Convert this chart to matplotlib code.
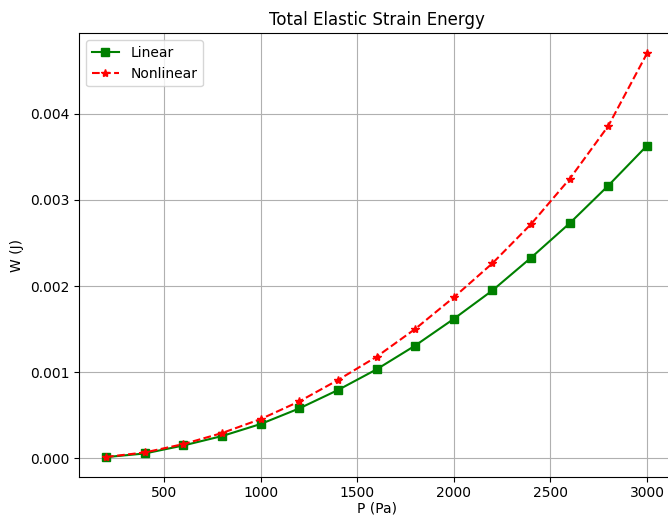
import matplotlib
matplotlib.use('Agg')
import matplotlib.pyplot as plt

# applied pressure (Pa)
P = [200, 400, 600, 800, 1000, 1200, 1400, 1600, 1800, 2000, 2200, 2400, 2600, 2800, 3000]

# total elastic strain energy (J)
W_linear = [0.000016, 0.000058, 0.000151, 0.00026, 0.00040, 0.000581, 0.000794, 0.001034,
            0.00131, 0.00162, 0.00195, 0.00233, 0.00273, 0.003167, 0.00363]
W_nonlinear = [0.000018, 0.00007, 0.000167, 0.000295, 0.000457, 0.000662, 0.00091, 0.00118,
               0.001503, 0.00187, 0.002265, 0.00272, 0.003245, 0.00386, 0.0047]

fig = plt.figure(figsize=(6.68, 5.17), dpi=100)
ax = fig.add_subplot(111)
fig.subplots_adjust(left=0.1183, right=1.009, bottom=0.0768, top=0.9356)

ax.plot(P, W_linear, 'g-s', label='Linear')
ax.plot(P, W_nonlinear, 'r--*', label='Nonlinear')

ax.set_title('Total Elastic Strain Energy')
ax.set_xlabel('P (Pa)', labelpad=1)
ax.set_ylabel('W (J)')
ax.tick_params(axis='x', pad=2.5)
ax.legend(loc='upper left')
ax.grid(True)

fig.savefig('out.png', dpi=100)
